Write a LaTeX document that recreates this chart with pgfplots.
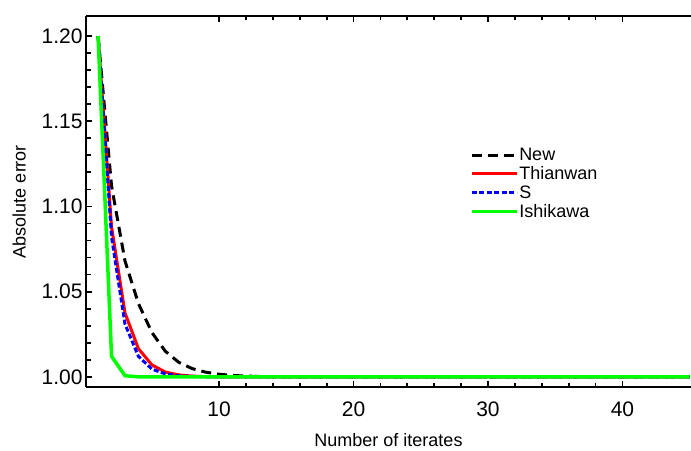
\documentclass[border=0pt]{standalone}
\usepackage{fontspec}
\setmainfont{Liberation Sans}
\usepackage{pgfplots}
\pgfplotsset{compat=1.18}
\usetikzlibrary{calc}

\definecolor{mgreen}{RGB}{0,255,0}
\definecolor{mred}{RGB}{255,0,0}
\definecolor{mblue}{RGB}{0,0,255}

\begin{document}
\begin{tikzpicture}
\begin{axis}[
    scale only axis,
    width=605pt, height=371pt,
    xmin=0.1, xmax=45.1,
    ymin=0.994, ymax=1.2118,
    separate axis lines,
    axis x line*=box,
    axis y line*=left,
    axis line style={line width=2.2pt},
    xtick={10,20,30,40},
    ytick={1.00,1.05,1.10,1.15,1.20},
    minor x tick num=4,
    minor y tick num=4,
    tick align=inside,
    xtick pos=both,
    major tick length=6pt,
    minor tick length=4.5pt,
    every tick/.style={black, line width=1.8pt},
    /pgf/number format/assume math mode=true,
    yticklabel style={/pgf/number format/fixed, /pgf/number format/fixed zerofill, /pgf/number format/precision=2, font=\fontsize{21}{21}\selectfont},
    xticklabel style={font=\fontsize{21}{21}\selectfont, yshift=-11pt},
    xlabel={Number of iterates},
    ylabel={Absolute error},
    xlabel style={font=\fontsize{18}{18}\selectfont, yshift=-10pt},
    ylabel style={font=\fontsize{18}{18}\selectfont, yshift=9pt},
    legend style={at={(0.629,0.652)}, anchor=north west, draw=none, fill=none,
        font=\fontsize{18}{18}\selectfont, row sep=2.5pt,
        nodes={inner sep=1pt}},
    legend cell align=left,
    legend image code/.code={\draw[#1] (0pt,0pt) -- (45pt,0pt);},
]
\coordinate (ll) at (rel axis cs:0,0);
\coordinate (ur) at (rel axis cs:1,1);

\addplot[black, line width=3pt, dash pattern=on 10pt off 6pt] coordinates {
    (1,1.2) (2,1.112) (3,1.068) (4,1.043) (5,1.026) (6,1.015) (7,1.0085)
    (8,1.0048) (9,1.0027) (10,1.0015) (11,1.0008) (12,1.0004) (13,1.0002)
    (14,1.0001) (15,1.0) (45,1.0)
};
\addlegendentry{New}

\addplot[mred, line width=3pt] coordinates {
    (1,1.2) (2,1.088) (3,1.0375) (4,1.0165) (5,1.007) (6,1.0028) (7,1.0011)
    (8,1.0004) (9,1.0001) (10,1.0) (45,1.0)
};
\addlegendentry{Thianwan}

\addplot[mblue, line width=3pt, dash pattern=on 5pt off 2.5pt] coordinates {
    (1,1.2) (2,1.082) (3,1.031) (4,1.012) (5,1.0045) (6,1.0017) (7,1.0006)
    (8,1.0002) (9,1.0) (45,1.0)
};
\addlegendentry{S}

\addplot[mgreen, line width=3.5pt] coordinates {
    (1,1.2) (2,1.012) (3,1.0006) (4,1.0) (45,1.0)
};
\addlegendentry{Ishikawa}
\end{axis}
\pgfresetboundingbox
\path[use as bounding box] ($(ll)+(-86pt,-63pt)$) rectangle ($(ur)+(0pt,16pt)$);
\end{tikzpicture}
\end{document}
